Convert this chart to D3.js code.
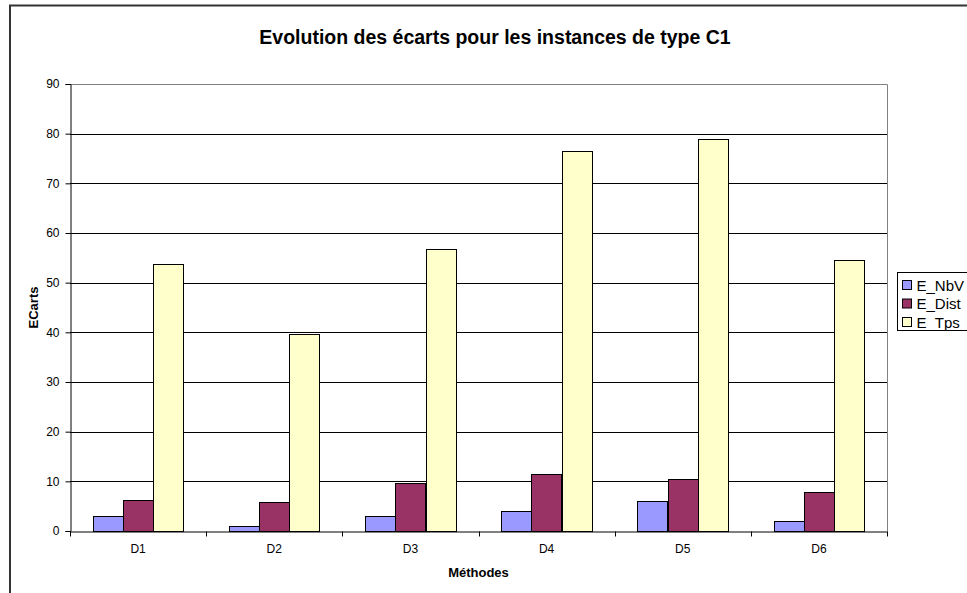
<!DOCTYPE html>
<html>
<head>
<meta charset="utf-8">
<script src="https://cdn.jsdelivr.net/npm/d3@7"></script>
<style>
  body { margin: 0; background: #fff; }
  text { font-family: "Liberation Sans", Arial, sans-serif; }
</style>
</head>
<body>
<svg id="chart" width="967" height="593"></svg>
<script>
const methodes = ["D1", "D2", "D3", "D4", "D5", "D6"];
const seriesNames = ["E_NbV", "E_Dist", "E_Tps"];
const eNbV = [3, 1, 3, 4, 6, 2];
const eDist = [6.3, 5.9, 9.6, 11.5, 10.5, 7.8];
const eTps = [53.7, 39.6, 56.8, 76.5, 79.0, 54.5];
const yTicks = [0, 10, 20, 30, 40, 50, 60, 70, 80, 90];
const colors = ["#9999ff", "#993366", "#ffffcc"];

const svg = d3.select("#chart");

const plotLeft = 70, plotRight = 887, plotTop = 84, plotBottom = 531;

// chart frame (cut off at the right and bottom)
svg.append("rect")
  .attr("x", 10).attr("y", 5.5)
  .attr("width", 1000).attr("height", 700)
  .attr("fill", "none")
  .attr("stroke", "#333").attr("stroke-width", 2);

svg.append("text")
  .attr("x", 495).attr("y", 44)
  .attr("text-anchor", "middle")
  .attr("font-size", 19.5).attr("font-weight", "bold")
  .text("Evolution des écarts pour les instances de type C1");

const x = d3.scaleBand().domain(methodes).range([plotLeft, plotRight]);
const inner = d3.scaleBand().domain(seriesNames)
  .range([0, x.bandwidth()]).paddingOuter(0.75).paddingInner(0);
const y = d3.scaleLinear().domain([0, 90]).range([plotBottom, plotTop]);

// plot border (top and right, grey)
svg.append("path")
  .attr("d", `M${plotLeft},${plotTop + 0.5}H${plotRight + 0.5}V${plotBottom}`)
  .attr("fill", "none").attr("stroke", "#808080").attr("stroke-width", 1);

// gridlines
svg.append("g")
  .selectAll("line")
  .data(yTicks.filter(d => d > 0 && d < 90))
  .join("line")
  .attr("x1", plotLeft).attr("x2", plotRight)
  .attr("y1", d => Math.round(y(d)) + 0.5)
  .attr("y2", d => Math.round(y(d)) + 0.5)
  .attr("stroke", "#000");

const series = [eNbV, eDist, eTps];
series.forEach((vals, i) => {
  svg.append("g")
    .selectAll("rect")
    .data(vals)
    .join("rect")
    .attr("x", (d, j) => Math.round(x(methodes[j]) + inner(seriesNames[i])) + 0.5)
    .attr("y", d => Math.round(y(d)) + 0.5)
    .attr("width", Math.round(inner.bandwidth()))
    .attr("height", d => Math.round(plotBottom - y(d)))
    .attr("fill", colors[i])
    .attr("stroke", "#000").attr("stroke-width", 1);
});

// y axis
const yAxis = svg.append("g")
  .attr("transform", `translate(${plotLeft + 0.5},0)`)
  .call(d3.axisLeft(y).tickValues(yTicks).tickSize(5).tickPadding(6));
yAxis.select(".domain").attr("stroke", "#000");
yAxis.selectAll("text").attr("font-size", 12)
  .attr("font-family", "Liberation Sans, Arial, sans-serif");

// x axis
const xAxis = svg.append("g")
  .attr("transform", `translate(0,${plotBottom + 0.5})`)
  .call(d3.axisBottom(x).tickSize(0).tickPadding(13));
xAxis.select(".domain").attr("stroke", "#000");
xAxis.selectAll("text").attr("font-size", 12)
  .attr("font-family", "Liberation Sans, Arial, sans-serif");
xAxis.selectAll(".sep")
  .data(methodes)
  .join("line")
  .attr("class", "sep")
  .attr("x1", d => Math.round(x(d)) + 0.5)
  .attr("x2", d => Math.round(x(d)) + 0.5)
  .attr("y1", 0).attr("y2", 5)
  .attr("stroke", "#000");
xAxis.append("line")
  .attr("x1", plotRight + 0.5).attr("x2", plotRight + 0.5)
  .attr("y1", 0).attr("y2", 5).attr("stroke", "#000");

svg.append("text")
  .attr("x", (plotLeft + plotRight) / 2).attr("y", 577)
  .attr("text-anchor", "middle")
  .attr("font-size", 13).attr("font-weight", "bold")
  .text("Méthodes");

svg.append("text")
  .attr("transform", `translate(38,${(plotTop + plotBottom) / 2}) rotate(-90)`)
  .attr("text-anchor", "middle")
  .attr("font-size", 13).attr("font-weight", "bold")
  .text("ECarts");

// legend
const legend = svg.append("g").attr("transform", "translate(897.5,272.5)");
legend.append("rect")
  .attr("width", 100).attr("height", 58)
  .attr("fill", "#fff").attr("stroke", "#000");
seriesNames.forEach((name, i) => {
  const row = legend.append("g").attr("transform", `translate(5,${8 + i * 18.5})`);
  row.append("rect")
    .attr("width", 9).attr("height", 9)
    .attr("fill", colors[i]).attr("stroke", "#000");
  row.append("text")
    .attr("x", 14).attr("y", 10)
    .attr("font-size", 15)
    .text(name);
});
</script>
</body>
</html>
